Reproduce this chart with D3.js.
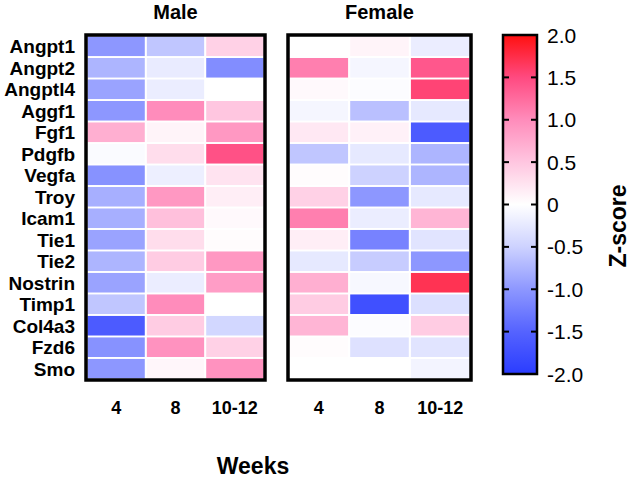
<!DOCTYPE html>
<html>
<head>
<meta charset="utf-8">
<script src="https://cdn.jsdelivr.net/npm/d3@7"></script>
<style>
  body { margin: 0; background: #fff; }
  text { font-family: "Liberation Sans", Arial, sans-serif; }
</style>
</head>
<body>
<div class="chart"></div>
<script>
// data
var genes = ["Angpt1", "Angpt2", "Angptl4", "Aggf1", "Fgf1", "Pdgfb", "Vegfa", "Troy",
             "Icam1", "Tie1", "Tie2", "Nostrin", "Timp1", "Col4a3", "Fzd6", "Smo"];
var weeks = ["4", "8", "10-12"];

// z-scores, one row per gene: [4, 8, 10-12]
var maleZ = [
  [-1.0, -0.6, 0.4],
  [-0.75, -0.22, -1.1],
  [-0.9, -0.2, 0.0],
  [-1.0, 1.0, 0.5],
  [0.7, 0.1, 0.9],
  [-0.05, 0.3, 1.45],
  [-1.05, -0.18, 0.25],
  [-0.8, 0.9, 0.15],
  [-0.8, 0.55, 0.05],
  [-0.9, 0.3, 0.03],
  [-0.75, 0.45, 0.9],
  [-0.9, -0.2, 0.85],
  [-0.6, 1.0, 0.0],
  [-1.6, 0.45, -0.45],
  [-1.05, 0.95, 0.4],
  [-1.0, 0.08, 0.95]
];
var femaleZ = [
  [0.0, 0.1, -0.2],
  [1.1, -0.1, 1.4],
  [0.05, -0.03, 1.55],
  [-0.1, -0.65, -0.25],
  [0.2, 0.12, -1.6],
  [-0.6, -0.25, -0.75],
  [0.03, -0.5, -0.75],
  [0.4, -1.0, -0.25],
  [1.1, -0.2, 0.65],
  [0.15, -1.2, -0.3],
  [-0.25, -0.55, -1.0],
  [0.7, -0.08, 1.7],
  [0.45, -1.75, -0.35],
  [0.65, -0.03, 0.45],
  [0.03, -0.33, -0.3],
  [0.0, 0.0, -0.12]
];
var scaleTicks = [2.0, 1.5, 1.0, 0.5, 0, -0.5, -1.0, -1.5, -2.0];

var svgWidth = 634;
var svgHeight = 480;

var svg = d3.select(".chart")
  .append("svg")
  .attr("width", svgWidth)
  .attr("height", svgHeight);

var color = d3.scaleLinear()
  .domain([-2, -1.5, -1, -0.5, 0, 0.5, 1, 1.5, 2])
  .range(["#2a3cff", "#5563ff", "#8d97ff", "#cdd2ff", "#ffffff",
          "#ffc6e0", "#ff8cbb", "#ff4a80", "#ff1010"])
  .clamp(true);

var panelTop = 35, panelBottom = 380;

var y = d3.scaleBand()
  .domain(genes)
  .range([panelTop + 1.5, panelBottom - 1.5])
  .paddingInner(0.09);

function drawPanel(x0, x1, title, data) {
  var g = svg.append("g");
  var x = d3.scaleBand()
    .domain(weeks)
    .range([x0 + 1.5, x1 - 1.5])
    .paddingInner(0.035);

  var cells = [];
  data.forEach(function(row, i) {
    row.forEach(function(v, j) {
      cells.push({ gene: genes[i], week: weeks[j], z: v });
    });
  });

  g.selectAll("rect.cell")
    .data(cells)
    .enter()
    .append("rect")
    .attr("class", "cell")
    .attr("x", d => x(d.week))
    .attr("y", d => y(d.gene))
    .attr("width", x.bandwidth())
    .attr("height", y.bandwidth())
    .attr("fill", d => color(d.z));

  g.append("rect")
    .attr("x", x0)
    .attr("y", panelTop)
    .attr("width", x1 - x0)
    .attr("height", panelBottom - panelTop)
    .attr("fill", "none")
    .attr("stroke", "#000")
    .attr("stroke-width", 3.5);

  g.append("text")
    .attr("x", (x0 + x1) / 2)
    .attr("y", 19)
    .attr("text-anchor", "middle")
    .style("font-size", "20px")
    .style("font-weight", "bold")
    .text(title);

  g.selectAll("text.wk")
    .data(weeks)
    .enter()
    .append("text")
    .attr("class", "wk")
    .attr("x", d => x(d) + x.bandwidth() / 2)
    .attr("y", 414)
    .attr("text-anchor", "middle")
    .style("font-size", "18px")
    .style("font-weight", "bold")
    .text(d => d);
}

drawPanel(86, 265, "Male", maleZ);
drawPanel(288, 471, "Female", femaleZ);

// gene labels
svg.selectAll("text.gene")
  .data(genes)
  .enter()
  .append("text")
  .attr("class", "gene")
  .attr("x", 75)
  .attr("y", d => y(d) + y.bandwidth() / 2)
  .attr("dy", "0.36em")
  .attr("text-anchor", "end")
  .style("font-size", "19px")
  .style("font-weight", "bold")
  .text(d => d);

svg.append("text")
  .attr("x", 253)
  .attr("y", 474)
  .attr("text-anchor", "middle")
  .style("font-size", "23px")
  .style("font-weight", "bold")
  .text("Weeks");

// colour bar
var cbX = 503, cbW = 34, cbTop = 35, cbBottom = 374;
var cbScale = d3.scaleLinear().domain([2, -2]).range([cbTop, cbBottom]);

var defs = svg.append("defs");
var grad = defs.append("linearGradient")
  .attr("id", "zgrad")
  .attr("x1", 0).attr("y1", 0)
  .attr("x2", 0).attr("y2", 1);
d3.range(0, 41).forEach(function(k) {
  var v = 2 - k * 0.1;
  grad.append("stop")
    .attr("offset", (k / 40 * 100) + "%")
    .attr("stop-color", color(v));
});

svg.append("rect")
  .attr("x", cbX)
  .attr("y", cbTop)
  .attr("width", cbW)
  .attr("height", cbBottom - cbTop)
  .attr("fill", "url(#zgrad)")
  .attr("stroke", "#000")
  .attr("stroke-width", 2.5);

var tickG = svg.append("g");
tickG.selectAll("line.tl")
  .data(scaleTicks)
  .enter()
  .append("line")
  .attr("class", "tl")
  .attr("x1", cbX)
  .attr("x2", cbX + 6)
  .attr("y1", d => cbScale(d))
  .attr("y2", d => cbScale(d))
  .attr("stroke", "#000")
  .attr("stroke-width", 2);
tickG.selectAll("line.tr")
  .data(scaleTicks)
  .enter()
  .append("line")
  .attr("class", "tr")
  .attr("x1", cbX + cbW - 6)
  .attr("x2", cbX + cbW)
  .attr("y1", d => cbScale(d))
  .attr("y2", d => cbScale(d))
  .attr("stroke", "#000")
  .attr("stroke-width", 2);
tickG.selectAll("text")
  .data(scaleTicks)
  .enter()
  .append("text")
  .attr("x", 547)
  .attr("y", d => cbScale(d))
  .attr("dy", "0.36em")
  .style("font-size", "21px")
  .text(d => d === 0 ? "0" : d3.format(".1f")(d).replace("\u2212", "-"));

svg.append("text")
  .attr("transform", "translate(626, 226) rotate(-90)")
  .attr("text-anchor", "middle")
  .style("font-size", "23px")
  .style("font-weight", "bold")
  .text("Z-score");
</script>
</body>
</html>
